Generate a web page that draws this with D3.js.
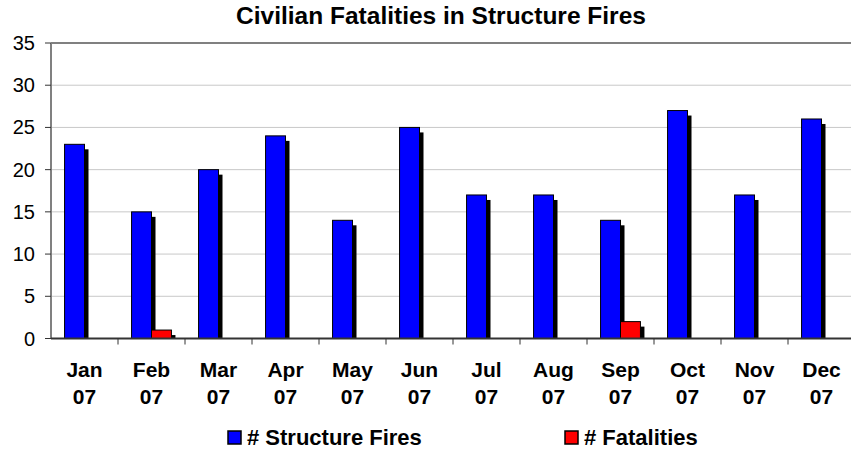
<!DOCTYPE html>
<html>
<head>
<meta charset="utf-8">
<script src="https://cdn.jsdelivr.net/npm/d3@7"></script>
<style>
  body { margin: 0; background: #fff; }
  text { font-family: Arial, "Liberation Sans", sans-serif; fill: #000; }
</style>
</head>
<body>
<svg id="chart" width="851" height="452"></svg>
<script>
const months = ["Jan", "Feb", "Mar", "Apr", "May", "Jun", "Jul", "Aug", "Sep", "Oct", "Nov", "Dec"];
const yearLabel = "07";
const structureFires = [23, 15, 20, 24, 14, 25, 17, 17, 14, 27, 17, 26];
const fatalities = [0, 1, 0, 0, 0, 0, 0, 0, 2, 0, 0, 0];
const seriesNames = ["# Structure Fires", "# Fatalities"];
const seriesColors = ["#0000ff", "#ff0000"];
const yTicks = [0, 5, 10, 15, 20, 25, 30, 35];

const svg = d3.select("#chart");
const plotLeft = 51, plotRight = 855, plotTop = 43, plotBottom = 338.5;

const x = d3.scaleBand().domain(months).range([plotLeft, plotRight]).padding(0);
const xInner = d3.scaleBand().domain(seriesNames).range([0, x.bandwidth()]).paddingInner(0).paddingOuter(0.68);
const y = d3.scaleLinear().domain([0, 35]).range([plotBottom, plotTop]);

svg.append("text")
	.attr("x", 441)
	.attr("y", 24)
	.attr("text-anchor", "middle")
	.style("font-size", "24.5px")
	.style("font-weight", "bold")
	.text("Civilian Fatalities in Structure Fires");

// gridlines
svg.append("g")
	.selectAll("line")
	.data(yTicks.filter((d) => d > 0 && d < 35))
	.enter()
	.append("line")
	.attr("x1", plotLeft)
	.attr("x2", plotRight)
	.attr("y1", (d) => y(d))
	.attr("y2", (d) => y(d))
	.attr("stroke", "#c8c8c8")
	.attr("stroke-width", 1);

svg.append("line")
	.attr("x1", plotLeft).attr("x2", plotRight)
	.attr("y1", y(35)).attr("y2", y(35))
	.attr("stroke", "#808080").attr("stroke-width", 2);

// bars
const rows = months.map((m, i) => ({ month: m, values: [structureFires[i], fatalities[i]] }));
const groups = svg.append("g")
	.selectAll("g")
	.data(rows)
	.enter()
	.append("g")
	.attr("transform", (d) => `translate(${x(d.month)}, 0)`);

const barG = groups.selectAll("g.bar")
	.data((d) => d.values.map((v, j) => ({ name: seriesNames[j], value: v, color: seriesColors[j] })).filter((d) => d.value > 0))
	.enter()
	.append("g")
	.attr("class", "bar");

// drop shadow
barG.append("rect")
	.attr("x", (d) => xInner(d.name) + 4)
	.attr("y", (d) => y(d.value) + 5)
	.attr("width", xInner.bandwidth())
	.attr("height", (d) => Math.max(0, plotBottom - y(d.value) - 5))
	.attr("fill", "#000");

barG.append("rect")
	.attr("x", (d) => xInner(d.name))
	.attr("y", (d) => y(d.value))
	.attr("width", xInner.bandwidth())
	.attr("height", (d) => plotBottom - y(d.value))
	.attr("fill", (d) => d.color)
	.attr("stroke", "#000")
	.attr("stroke-width", 1);

// y axis
const yAxis = svg.append("g");
yAxis.append("line")
	.attr("x1", plotLeft).attr("x2", plotLeft)
	.attr("y1", plotTop).attr("y2", plotBottom)
	.attr("stroke", "#808080").attr("stroke-width", 2);
yAxis.selectAll("line.tick")
	.data(yTicks)
	.enter()
	.append("line")
	.attr("class", "tick")
	.attr("x1", plotLeft - 6).attr("x2", plotLeft)
	.attr("y1", (d) => y(d)).attr("y2", (d) => y(d))
	.attr("stroke", "#333");
yAxis.selectAll("text")
	.data(yTicks)
	.enter()
	.append("text")
	.attr("x", 35)
	.attr("y", (d) => y(d) + 7)
	.attr("text-anchor", "end")
	.style("font-size", "20px")
	.text((d) => d);

// x axis
const xAxis = svg.append("g");
xAxis.append("line")
	.attr("x1", plotLeft).attr("x2", plotRight)
	.attr("y1", plotBottom).attr("y2", plotBottom)
	.attr("stroke", "#333").attr("stroke-width", 2);
xAxis.selectAll("line.tick")
	.data(months.slice(1))
	.enter()
	.append("line")
	.attr("class", "tick")
	.attr("x1", (d) => x(d)).attr("x2", (d) => x(d))
	.attr("y1", plotBottom).attr("y2", plotBottom + 6)
	.attr("stroke", "#333");
const xLabels = xAxis.selectAll("text")
	.data(months)
	.enter()
	.append("text")
	.attr("text-anchor", "middle")
	.style("font-size", "21px")
	.style("font-weight", "bold");
xLabels.append("tspan")
	.attr("x", (d) => x(d) + x.bandwidth() / 2)
	.attr("y", 377)
	.text((d) => d);
xLabels.append("tspan")
	.attr("x", (d) => x(d) + x.bandwidth() / 2)
	.attr("y", 404)
	.text(yearLabel);

// legend
const legendX = [228, 565];
const legend = svg.append("g")
	.selectAll("g")
	.data(seriesNames)
	.enter()
	.append("g")
	.attr("transform", (d, i) => `translate(${legendX[i]}, 431)`);
legend.append("rect")
	.attr("width", 13).attr("height", 13)
	.attr("fill", (d, i) => seriesColors[i])
	.attr("stroke", "#000").attr("stroke-width", 1.5);
legend.append("text")
	.attr("x", 19)
	.attr("y", 14)
	.style("font-size", "22px")
	.style("font-weight", "bold")
	.text((d) => d);
</script>
</body>
</html>
